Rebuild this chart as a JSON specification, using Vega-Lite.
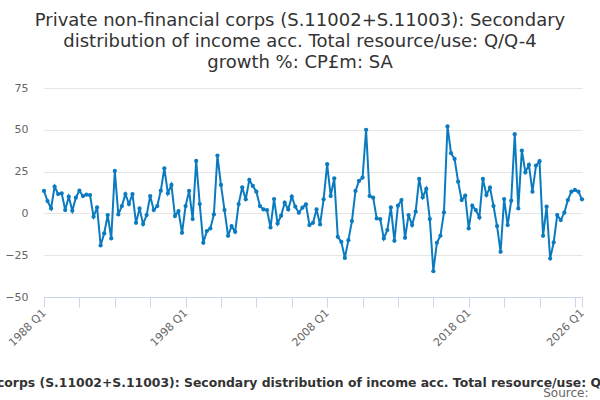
{
  "$schema": "https://vega.github.io/schema/vega-lite/v6.json",
  "width": 538,
  "height": 209,
  "autosize": "none",
  "padding": {"left": 44, "top": 88, "right": 18, "bottom": 103},
  "background": "white",
  "title": {
    "text": [
      "Private non-financial corps (S.11002+S.11003): Secondary",
      "distribution of income acc. Total resource/use: Q/Q-4",
      "growth %: CP£m: SA"
    ],
    "font": "DejaVu Sans",
    "fontSize": 18,
    "fontWeight": "normal",
    "color": "#333333",
    "anchor": "middle",
    "dx": -13,
    "lineHeight": 21,
    "offset": 10
  },
  "config": {
    "view": {"stroke": null},
    "font": "DejaVu Sans"
  },
  "data": {
    "values": [
      {"q": "1988 Q1", "v": 13.4}, {"q": "1988 Q2", "v": 7.4}, {"q": "1988 Q3", "v": 3}, {"q": "1988 Q4", "v": 16},
      {"q": "1989 Q1", "v": 11.6}, {"q": "1989 Q2", "v": 12}, {"q": "1989 Q3", "v": 2}, {"q": "1989 Q4", "v": 10},
      {"q": "1990 Q1", "v": 1.6}, {"q": "1990 Q2", "v": 9.4}, {"q": "1990 Q3", "v": 13.6}, {"q": "1990 Q4", "v": 10.4},
      {"q": "1991 Q1", "v": 11.2}, {"q": "1991 Q2", "v": 11}, {"q": "1991 Q3", "v": -2}, {"q": "1991 Q4", "v": 3.6},
      {"q": "1992 Q1", "v": -19.2}, {"q": "1992 Q2", "v": -12}, {"q": "1992 Q3", "v": -1}, {"q": "1992 Q4", "v": -15},
      {"q": "1993 Q1", "v": 25.4}, {"q": "1993 Q2", "v": -0.6}, {"q": "1993 Q3", "v": 4.4}, {"q": "1993 Q4", "v": 11.6},
      {"q": "1994 Q1", "v": 5.6}, {"q": "1994 Q2", "v": 11.6}, {"q": "1994 Q3", "v": -5.6}, {"q": "1994 Q4", "v": 3},
      {"q": "1995 Q1", "v": -6.4}, {"q": "1995 Q2", "v": -1}, {"q": "1995 Q3", "v": 10.4}, {"q": "1995 Q4", "v": 2},
      {"q": "1996 Q1", "v": 4.4}, {"q": "1996 Q2", "v": 13.6}, {"q": "1996 Q3", "v": 27}, {"q": "1996 Q4", "v": 12},
      {"q": "1997 Q1", "v": 17}, {"q": "1997 Q2", "v": -1.6}, {"q": "1997 Q3", "v": 1.4}, {"q": "1997 Q4", "v": -11.6},
      {"q": "1998 Q1", "v": 4.4}, {"q": "1998 Q2", "v": 13.4}, {"q": "1998 Q3", "v": -3.4}, {"q": "1998 Q4", "v": 31.4},
      {"q": "1999 Q1", "v": 5.6}, {"q": "1999 Q2", "v": -17.6}, {"q": "1999 Q3", "v": -10.6}, {"q": "1999 Q4", "v": -9},
      {"q": "2000 Q1", "v": -0.6}, {"q": "2000 Q2", "v": 34.6}, {"q": "2000 Q3", "v": 17}, {"q": "2000 Q4", "v": 2},
      {"q": "2001 Q1", "v": -13.4}, {"q": "2001 Q2", "v": -7.6}, {"q": "2001 Q3", "v": -11}, {"q": "2001 Q4", "v": 5.6},
      {"q": "2002 Q1", "v": 15.6}, {"q": "2002 Q2", "v": 8.4}, {"q": "2002 Q3", "v": 20}, {"q": "2002 Q4", "v": 16.4},
      {"q": "2003 Q1", "v": 13}, {"q": "2003 Q2", "v": 4.4}, {"q": "2003 Q3", "v": 2.4}, {"q": "2003 Q4", "v": 2},
      {"q": "2004 Q1", "v": -8.4}, {"q": "2004 Q2", "v": 8.6}, {"q": "2004 Q3", "v": -6}, {"q": "2004 Q4", "v": -1.4},
      {"q": "2005 Q1", "v": 6.4}, {"q": "2005 Q2", "v": 2.4}, {"q": "2005 Q3", "v": 10}, {"q": "2005 Q4", "v": 4},
      {"q": "2006 Q1", "v": 0.4}, {"q": "2006 Q2", "v": 3.4}, {"q": "2006 Q3", "v": 5.4}, {"q": "2006 Q4", "v": -7},
      {"q": "2007 Q1", "v": -5.6}, {"q": "2007 Q2", "v": 2.4}, {"q": "2007 Q3", "v": -6.6}, {"q": "2007 Q4", "v": 8.4},
      {"q": "2008 Q1", "v": 29.4}, {"q": "2008 Q2", "v": 10.4}, {"q": "2008 Q3", "v": 21}, {"q": "2008 Q4", "v": -14},
      {"q": "2009 Q1", "v": -17}, {"q": "2009 Q2", "v": -26.6}, {"q": "2009 Q3", "v": -16}, {"q": "2009 Q4", "v": -4.6},
      {"q": "2010 Q1", "v": 13.4}, {"q": "2010 Q2", "v": 19.4}, {"q": "2010 Q3", "v": 21.4}, {"q": "2010 Q4", "v": 50},
      {"q": "2011 Q1", "v": 10.4}, {"q": "2011 Q2", "v": 9.4}, {"q": "2011 Q3", "v": -3}, {"q": "2011 Q4", "v": -3.4},
      {"q": "2012 Q1", "v": -15}, {"q": "2012 Q2", "v": -10}, {"q": "2012 Q3", "v": 3.6}, {"q": "2012 Q4", "v": -16.4},
      {"q": "2013 Q1", "v": 4.6}, {"q": "2013 Q2", "v": 8}, {"q": "2013 Q3", "v": -14.6}, {"q": "2013 Q4", "v": -1},
      {"q": "2014 Q1", "v": -7}, {"q": "2014 Q2", "v": 1}, {"q": "2014 Q3", "v": 20.6}, {"q": "2014 Q4", "v": 9.6},
      {"q": "2015 Q1", "v": 14.6}, {"q": "2015 Q2", "v": -3.4}, {"q": "2015 Q3", "v": -34.6}, {"q": "2015 Q4", "v": -17.6},
      {"q": "2016 Q1", "v": -13.4}, {"q": "2016 Q2", "v": 0.6}, {"q": "2016 Q3", "v": 52}, {"q": "2016 Q4", "v": 36},
      {"q": "2017 Q1", "v": 32.6}, {"q": "2017 Q2", "v": 19}, {"q": "2017 Q3", "v": 8}, {"q": "2017 Q4", "v": 10.6},
      {"q": "2018 Q1", "v": -9}, {"q": "2018 Q2", "v": 4.6}, {"q": "2018 Q3", "v": 2}, {"q": "2018 Q4", "v": -2.4},
      {"q": "2019 Q1", "v": 20.6}, {"q": "2019 Q2", "v": 11}, {"q": "2019 Q3", "v": 15.4}, {"q": "2019 Q4", "v": 4.4},
      {"q": "2020 Q1", "v": -7.6}, {"q": "2020 Q2", "v": -23}, {"q": "2020 Q3", "v": 8.6}, {"q": "2020 Q4", "v": -7},
      {"q": "2021 Q1", "v": 7.6}, {"q": "2021 Q2", "v": 47.4}, {"q": "2021 Q3", "v": 3}, {"q": "2021 Q4", "v": 37.6},
      {"q": "2022 Q1", "v": 24.6}, {"q": "2022 Q2", "v": 29}, {"q": "2022 Q3", "v": 13}, {"q": "2022 Q4", "v": 28.6},
      {"q": "2023 Q1", "v": 31.2}, {"q": "2023 Q2", "v": -13.4}, {"q": "2023 Q3", "v": 4}, {"q": "2023 Q4", "v": -27},
      {"q": "2024 Q1", "v": -17.4}, {"q": "2024 Q2", "v": -1}, {"q": "2024 Q3", "v": -4}, {"q": "2024 Q4", "v": 0.4},
      {"q": "2025 Q1", "v": 8}, {"q": "2025 Q2", "v": 13}, {"q": "2025 Q3", "v": 14}, {"q": "2025 Q4", "v": 13},
      {"q": "2026 Q1", "v": 8.4}
    ]
  },
  "mark": {
    "type": "line",
    "color": "#0b7bc0",
    "strokeWidth": 2,
    "point": {"filled": true, "size": 18, "color": "#0b7bc0"}
  },
  "encoding": {
    "x": {
      "field": "q",
      "type": "ordinal",
      "sort": null,
      "scale": {"type": "point", "padding": 0},
      "axis": {
        "values": ["1988 Q1", "1990 Q3", "1993 Q1", "1995 Q3", "1998 Q1", "2000 Q3", "2003 Q1", "2005 Q3", "2008 Q1", "2010 Q3", "2013 Q1", "2015 Q3", "2018 Q1", "2020 Q3", "2023 Q1", "2025 Q3", "2026 Q1"],
        "labelExpr": "indexof(['1988 Q1','1998 Q1','2008 Q1','2018 Q1','2026 Q1'], datum.value) >= 0 ? datum.value : ''",
        "labelAngle": -45,
        "labelAlign": "right",
        "labelBaseline": "middle",
        "labelFontSize": 11,
        "labelColor": "#666666",
        "labelPadding": 4,
        "labelOverlap": false,
        "labelBound": false,
        "tickColor": "#ccd6eb",
        "tickSize": 10,
        "domainColor": "#ccd6eb",
        "grid": false,
        "title": "Private non-financial corps (S.11002+S.11003): Secondary distribution of income acc. Total resource/use: Q/Q-4 growth %: CP£m: SA",
        "titleFontSize": 12.4,
        "titleFontWeight": "bold",
        "titleColor": "#333333",
        "titleX": 268,
        "titleY": 89,
        "titleAlign": "center",
        "titleBaseline": "alphabetic",
        "titleLimit": 0
      }
    },
    "y": {
      "field": "v",
      "type": "quantitative",
      "scale": {"domain": [-50, 75], "nice": false, "zero": false},
      "axis": {
        "values": [-50, -25, 0, 25, 50, 75],
        "grid": true,
        "gridColor": "#e6e6e6",
        "domain": false,
        "ticks": false,
        "labelColor": "#666666",
        "labelFontSize": 11,
        "labelPadding": 16,
        "title": "Source:",
        "titleAngle": 0,
        "titleX": 544,
        "titleY": 308,
        "titleAlign": "right",
        "titleBaseline": "alphabetic",
        "titleFontWeight": "normal",
        "titleFontSize": 12,
        "titleColor": "#666666"
      }
    }
  }
}
